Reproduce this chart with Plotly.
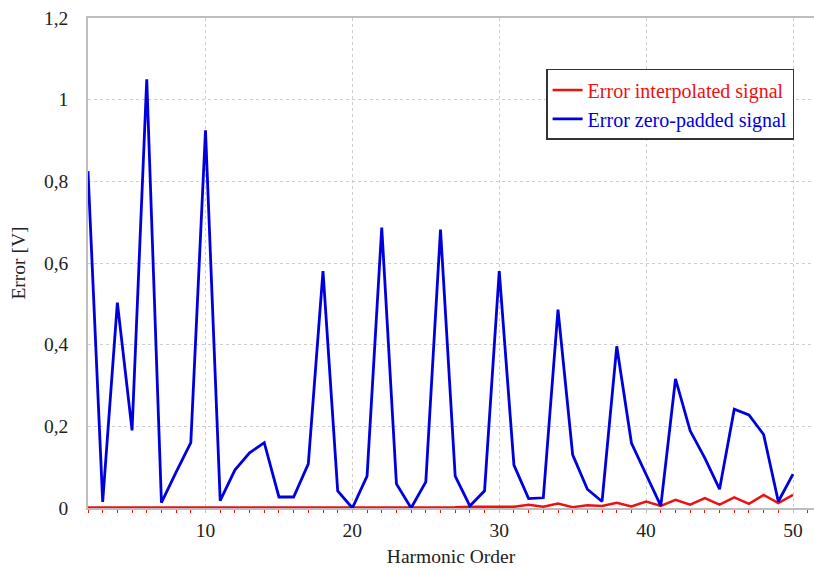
import plotly.graph_objects as go

# Harmonic orders 2..50
harmonics = list(range(2, 51))

# Error of the zero-padded signal [V]
err_zero_padded = [
    0.825, 0.015, 0.503, 0.190, 1.050, 0.013, 0.088, 0.160, 0.925, 0.018,
    0.093, 0.135, 0.160, 0.027, 0.027, 0.108, 0.580, 0.042, 0.000, 0.078,
    0.687, 0.059, 0.000, 0.064, 0.682, 0.078, 0.005, 0.042, 0.580, 0.105,
    0.023, 0.025, 0.486, 0.130, 0.046, 0.016, 0.396, 0.159, 0.082, 0.005,
    0.316, 0.189, 0.122, 0.046, 0.242, 0.228, 0.180, 0.016, 0.083,
]

# Error of the interpolated signal [V]
err_interpolated = [
    0.001, 0.001, 0.001, 0.001, 0.001, 0.001, 0.001, 0.001, 0.001, 0.001,
    0.001, 0.001, 0.001, 0.001, 0.001, 0.001, 0.001, 0.001, 0.001, 0.001,
    0.001, 0.001, 0.001, 0.001, 0.001, 0.002, 0.003, 0.003, 0.003, 0.003,
    0.008, 0.003, 0.011, 0.002, 0.007, 0.005, 0.013, 0.004, 0.016, 0.005,
    0.020, 0.008, 0.024, 0.008, 0.026, 0.010, 0.032, 0.012, 0.032,
]

y_tick_vals = [0, 0.2, 0.4, 0.6, 0.8, 1.0, 1.2]
y_tick_text = ["0", "0,2", "0,4", "0,6", "0,8", "1", "1,2"]
x_tick_vals = [10, 20, 30, 40, 50]

RED = "#ee1111"
BLUE = "#0000dd"
FONT = "Liberation Serif, Times New Roman, serif"
TEXT = "#222222"
label_font = dict(family=FONT, size=19.5, color=TEXT)

fig = go.Figure()
fig.add_trace(go.Scatter(
    x=harmonics, y=err_interpolated, mode="lines",
    line=dict(color=RED, width=2.5),
    name=f"<span style='color:{RED}'>Error interpolated signal</span>",
))
fig.add_trace(go.Scatter(
    x=harmonics, y=err_zero_padded, mode="lines",
    line=dict(color=BLUE, width=2.8),
    name=f"<span style='color:{BLUE}'>Error zero-padded signal</span>",
))

fig.update_layout(
    width=814, height=571,
    margin=dict(l=88, r=0, t=18, b=63),
    paper_bgcolor="white", plot_bgcolor="white",
    font=dict(family=FONT, size=19.5, color=TEXT),
    showlegend=True,
    legend=dict(
        x=0.631, y=0.896, xanchor="left", yanchor="top",
        bgcolor="white", bordercolor="#333333", borderwidth=1.5,
        font=dict(family=FONT, size=20),
        tracegroupgap=0, itemwidth=30,
    ),
)

fig.update_xaxes(
    range=[2, 51.43],
    tickvals=x_tick_vals,
    tickfont=label_font,
    showgrid=True, gridcolor="#cfcfcf", griddash="dot", gridwidth=1,
    showline=True, linecolor="#bdbdbd", linewidth=1.5, mirror=True,
    ticks="outside", ticklen=3, tickcolor="#bdbdbd",
    minor=dict(dtick=1, ticks="outside", ticklen=3, tickcolor=RED, showgrid=False),
    zeroline=False,
    title=dict(text="Harmonic Order", standoff=9, font=label_font),
    ticklabelstandoff=1,
)
fig.update_yaxes(
    range=[0, 1.2],
    tickvals=y_tick_vals, ticktext=y_tick_text,
    tickfont=label_font,
    showgrid=True, gridcolor="#cfcfcf", griddash="dot", gridwidth=1,
    showline=True, linecolor="#bdbdbd", linewidth=1.5,
    ticks="", zeroline=False,
    title=dict(text="Error [V]", standoff=13, font=label_font),
    ticklabelstandoff=14,
)

fig.write_html("out.html")
